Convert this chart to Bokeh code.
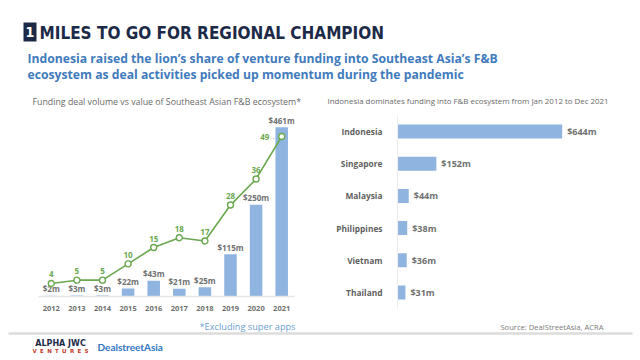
from bokeh.plotting import figure
from bokeh.models import Range1d, FactorRange
from bokeh.layouts import column, row
from bokeh.core.properties import value
from bokeh.embed import file_html
from bokeh.resources import INLINE

# ---------------- data ----------------
years = ["2012", "2013", "2014", "2015", "2016", "2017", "2018", "2019", "2020", "2021"]
deal_value = [2, 3, 3, 22, 43, 21, 25, 115, 250, 461]          # US$ m
deal_volume = [4, 5, 5, 10, 15, 18, 17, 28, 36, 49]            # number of deals
value_labels = ["$2m", "$3m", "$3m", "$22m", "$43m", "$21m", "$25m", "$115m", "$250m", "$461m"]

countries = ["Indonesia", "Singapore", "Malaysia", "Philippines", "Vietnam", "Thailand"]
country_value = [644, 152, 44, 38, 36, 31]
country_labels = ["$644m", "$152m", "$44m", "$38m", "$36m", "$31m"]

title_text = "MILES TO GO FOR REGIONAL CHAMPION"
subtitle_lines = ["Indonesia raised the lion\u2019s share of venture funding into Southeast Asia\u2019s F&B",
                  "ecosystem as deal activities picked up momentum during the pandemic"]
left_title = "Funding deal volume vs value of Southeast Asian F&B ecosystem*"
right_title = "Indonesia dominates funding into F&B ecosystem from Jan 2012 to Dec 2021"
note_text = "*Excluding super apps"
source_text = "Source: DealStreetAsia, ACRA"

BLUE_BAR = "#8fb4e0"
GREEN = "#6aa84f"
NAVY = "#1d2a47"
SUB_BLUE = "#3f7bbd"
GRAY_TXT = "#707070"
FONT = "Open Sans"
COND = "DejaVu Sans Condensed"
W = 640


def blank(width, height):
    f = figure(width=width, height=height, output_backend="svg", toolbar_location=None,
               x_range=Range1d(0, width), y_range=Range1d(height, 0), min_border=0,
               x_axis_location=None, y_axis_location=None, frame_align=False)
    f.grid.visible = False
    f.outline_line_color = None
    return f


# ---------------- header (page y 0..110) ----------------
H_HEAD = 110
head = blank(W, H_HEAD)
head.quad(left=[23], right=[36], top=[22], bottom=[41], fill_color=NAVY, line_color=None)
head.text(x=[29.5], y=[31.5], text=["1"], text_color="white", text_font=value(COND),
          text_font_style="bold", text_font_size="14px", text_align="center", text_baseline="middle")
head.text(x=[39], y=[32], text=[title_text], text_color=NAVY, text_font=value(COND),
          text_font_style="bold", text_font_size="17px", text_align="left", text_baseline="middle")
head.text(x=[27, 27], y=[58, 74], text=subtitle_lines, text_color=SUB_BLUE,
          text_font=value(FONT), text_font_style="bold", text_font_size="12.2px",
          text_align="left", text_baseline="middle")
head.text(x=[32], y=[101], text=[left_title], text_color="#6a6a6a", text_font=value(FONT),
          text_font_size="8.8px", text_align="left", text_baseline="middle")
head.text(x=[327], y=[100], text=[right_title], text_color="#6a6a6a", text_font=value(FONT),
          text_font_size="7.9px", text_align="left", text_baseline="middle")

# ---------------- left chart (page y 110..318) ----------------
H_MID = 208
left = figure(frame_width=256, frame_height=184, output_backend="svg", toolbar_location=None,
              x_range=FactorRange(*years, range_padding=0), y_range=Range1d(0, 501.1),
              y_axis_location=None, frame_align=False,
              min_border_left=38, min_border_right=26, min_border_top=2, min_border_bottom=22)
left.extra_y_ranges = {"deals": Range1d(0, 56.35)}
left.vbar(x=years, top=deal_value, width=0.49, fill_color=BLUE_BAR, line_color=None)
left.text(x=years, y=deal_value, text=value_labels, text_color=GRAY_TXT,
          text_font=value(FONT), text_font_style="bold", text_font_size="8px",
          text_align="center", text_baseline="middle", y_offset=-7)
left.line(x=years, y=deal_volume, y_range_name="deals", line_color=GREEN, line_width=1.6)
left.scatter(x=years, y=deal_volume, y_range_name="deals", size=6, marker="circle",
             fill_color="white", line_color=GREEN, line_width=1.4)
left.text(x=years[:-1], y=deal_volume[:-1], y_range_name="deals", text=[str(v) for v in deal_volume[:-1]],
          text_color=GREEN, text_font=value(FONT), text_font_style="bold", text_font_size="8px",
          text_align="center", text_baseline="middle", y_offset=-9)
left.text(x=years[-1:], y=deal_volume[-1:], y_range_name="deals", text=[str(deal_volume[-1])],
          text_color=GREEN, text_font=value(FONT), text_font_style="bold", text_font_size="8px",
          text_align="center", text_baseline="middle", x_offset=-17)
left.text(x=years[-1:], y=deal_volume[-1:], y_range_name="deals", text=["\u2013"],
          text_color="#c8c8c8", text_font=value(FONT), text_font_size="8px",
          text_align="center", text_baseline="middle", x_offset=-8)
left.xaxis.axis_line_color = "#e6e6e6"
left.xaxis.axis_line_width = 1.5
left.xaxis.major_tick_line_color = None
left.xaxis.minor_tick_line_color = None
left.xaxis.major_label_text_font = FONT
left.xaxis.major_label_text_font_style = "bold"
left.xaxis.major_label_text_font_size = "7.5px"
left.xaxis.major_label_text_color = GRAY_TXT
left.xaxis.major_label_standoff = 3
left.grid.visible = False
left.outline_line_color = None

# ---------------- right chart (page y 110..318) ----------------
right = figure(frame_width=228, frame_height=193, output_backend="svg", toolbar_location=None,
               y_range=FactorRange(*countries[::-1], range_padding=0), x_range=Range1d(0, 891.6),
               x_axis_location=None, frame_align=False,
               min_border_left=77, min_border_right=15, min_border_top=5, min_border_bottom=10)
right.hbar(y=countries, right=country_value, height=0.435, fill_color=BLUE_BAR, line_color=None)
right.text(x=country_value, y=countries, text=country_labels, text_color=GRAY_TXT,
           text_font=value(FONT), text_font_style="bold", text_font_size="9px",
           text_align="left", text_baseline="middle", x_offset=5)
right.yaxis.axis_line_color = "#ededed"
right.yaxis.axis_line_width = 1.2
right.yaxis.major_tick_line_color = None
right.yaxis.minor_tick_line_color = None
right.yaxis.major_label_text_font = FONT
right.yaxis.major_label_text_font_style = "bold"
right.yaxis.major_label_text_font_size = "8.4px"
right.yaxis.major_label_text_color = "#5f5f5f"
right.yaxis.major_label_standoff = 9
right.grid.visible = False
right.outline_line_color = None

# ---------------- footer (page y 318..360) ----------------
H_FOOT = 42
foot = blank(W, H_FOOT)
foot.text(x=[295], y=[8], text=[note_text], text_color="#6a9fd2", text_font=value(FONT),
          text_font_size="9.2px", text_align="right", text_baseline="middle")
foot.text(x=[603], y=[8], text=[source_text], text_color="#7a7a7a", text_font=value(FONT),
          text_font_size="7.6px", text_align="right", text_baseline="middle")
foot.segment(x0=[8], y0=[15], x1=[632], y1=[15], line_color="#dcdcdc", line_width=2.5)
foot.text(x=[60], y=[25], text=["ALPHA JWC"], text_color=NAVY, text_font=value("DejaVu Sans"),
          text_font_style="bold", text_font_size="8px", text_align="center", text_baseline="middle")
foot.text(x=[60], y=[32], text=["\u2002\u200a".join("VENTURES")], text_color="#c0392b",
          text_font=value("DejaVu Sans"), text_font_style="bold", text_font_size="5.5px",
          text_align="center", text_baseline="middle")
foot.text(x=[97], y=[28], text=["DealstreetAsia"], text_color="#2f74c0", text_font=value("Lato"),
          text_font_style="bold", text_font_size="10px", text_align="left", text_baseline="middle")

layout = column(head, row(left, right), foot)
open("out.html", "w").write(file_html(layout, INLINE))
